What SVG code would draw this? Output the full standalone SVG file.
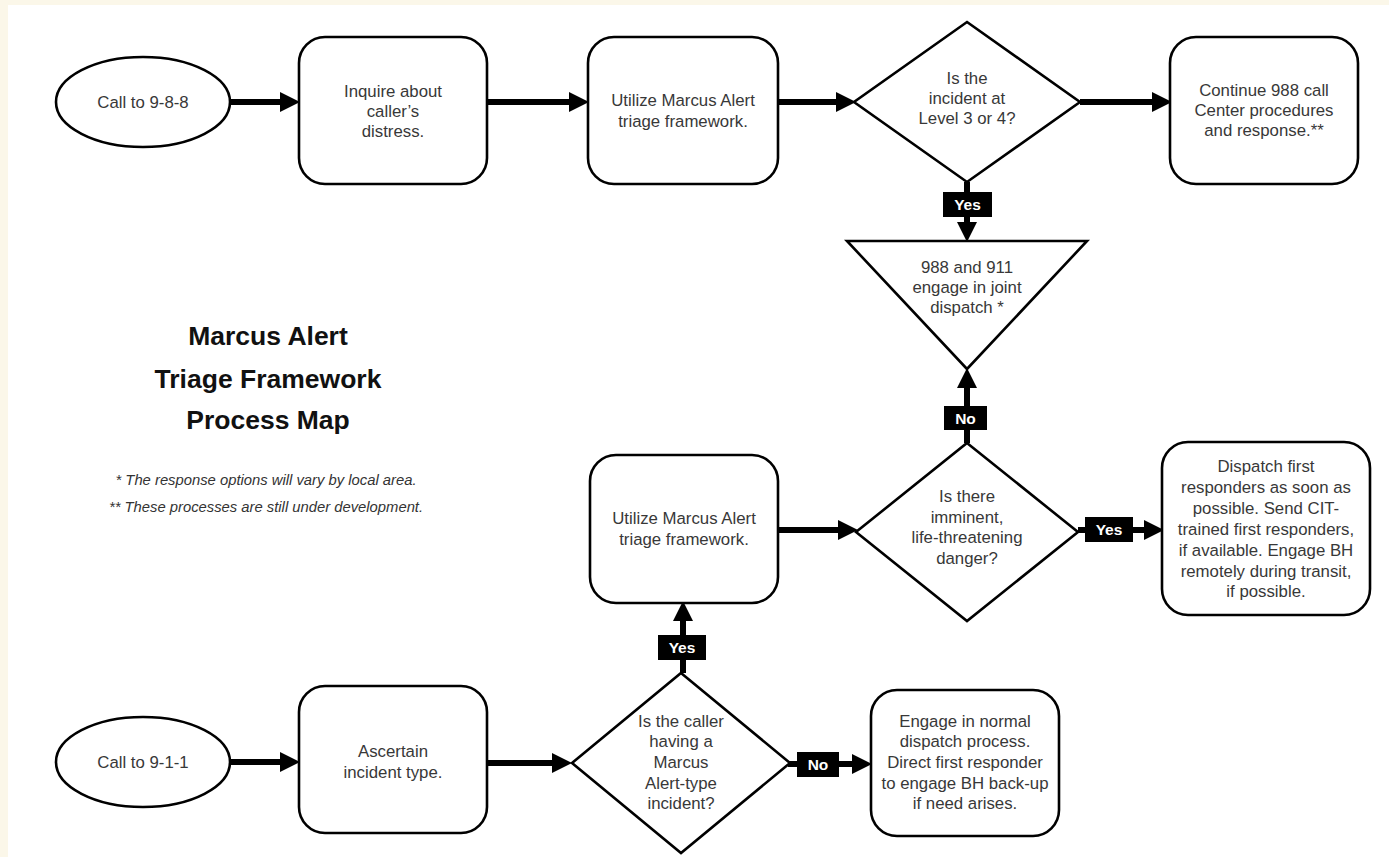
<svg xmlns="http://www.w3.org/2000/svg" width="1389" height="857" viewBox="0 0 1389 857">
<defs>
<style>
.shape{fill:#ffffff;stroke:#000000;stroke-width:2.6}
.t{font-family:"Liberation Sans",Arial,sans-serif;font-size:16.8px;fill:#383838;text-anchor:middle}
.title{font-family:"Liberation Sans",Arial,sans-serif;font-size:26.5px;font-weight:bold;fill:#111111;text-anchor:middle}
.note{font-family:"Liberation Sans",Arial,sans-serif;font-size:14.8px;font-style:italic;fill:#333333;text-anchor:middle}
.conn{fill:none;stroke:#000000;stroke-width:6;marker-end:url(#ah)}
.lab{fill:#000000}
.labt{font-family:"Liberation Sans",Arial,sans-serif;font-size:15.5px;font-weight:bold;fill:#ffffff;text-anchor:middle}
</style>
<marker id="ah" markerUnits="userSpaceOnUse" markerWidth="20" markerHeight="20" viewBox="0 0 18 18" refX="0" refY="9" orient="auto">
<path d="M0,0 L18,9 L0,18 Z" fill="#000000"/>
</marker>
</defs>
<rect x="0" y="0" width="1389" height="857" fill="#fbf7e9"/>
<rect x="8" y="5" width="1381" height="852" fill="#ffffff"/>

<g id="title">
<text class="title" x="268" y="345">Marcus Alert</text>
<text class="title" x="268" y="388">Triage Framework</text>
<text class="title" x="268" y="429">Process Map</text>
<text class="note" x="266" y="485">* The response options will vary by local area.</text>
<text class="note" x="266" y="512">** These processes are still under development.</text>
</g>

<g id="connectors">
<line class="conn" x1="230" y1="102" x2="280" y2="102"/>
<line class="conn" x1="487" y1="102" x2="569" y2="102"/>
<line class="conn" x1="778" y1="102" x2="836" y2="102"/>
<line class="conn" x1="1080" y1="102" x2="1152" y2="102"/>
<line class="conn" x1="967" y1="182" x2="967" y2="222"/>
<rect class="lab" x="943" y="192" width="49" height="25"/>
<text class="labt" x="967.5" y="210">Yes</text>
<line class="conn" x1="967" y1="443" x2="967" y2="388"/>
<rect class="lab" x="944" y="406" width="43" height="24"/>
<text class="labt" x="965.5" y="424">No</text>
<line class="conn" x1="778" y1="530" x2="838" y2="530"/>
<line class="conn" x1="1078" y1="530" x2="1144" y2="530"/>
<rect class="lab" x="1085" y="517" width="48" height="25"/>
<text class="labt" x="1109" y="535">Yes</text>
<line class="conn" x1="683" y1="673" x2="683" y2="621"/>
<rect class="lab" x="658" y="635" width="48" height="25"/>
<text class="labt" x="682" y="653">Yes</text>
<line class="conn" x1="230" y1="762" x2="280" y2="762"/>
<line class="conn" x1="487" y1="763" x2="552" y2="763"/>
<line class="conn" x1="788" y1="764" x2="852" y2="764"/>
<rect class="lab" x="797" y="752" width="42" height="25"/>
<text class="labt" x="818" y="770">No</text>
</g>

<g id="call988">
<ellipse class="shape" cx="143" cy="102" rx="87" ry="45"/>
<text class="t" x="143" y="108">Call to 9-8-8</text>
</g>

<g id="inquire">
<rect class="shape" x="299" y="37" width="188" height="147" rx="26"/>
<text class="t" x="393" y="97">Inquire about</text>
<text class="t" x="393" y="117">caller’s</text>
<text class="t" x="393" y="137">distress.</text>
</g>

<g id="utilize1">
<rect class="shape" x="588" y="37" width="190" height="147" rx="26"/>
<text class="t" x="683" y="106">Utilize Marcus Alert</text>
<text class="t" x="683" y="127">triage framework.</text>
</g>

<g id="level34">
<polygon class="shape" points="967,22 1080,102 967,182 854,102"/>
<text class="t" x="967" y="84">Is the</text>
<text class="t" x="967" y="104">incident at</text>
<text class="t" x="967" y="124">Level 3 or 4?</text>
</g>

<g id="continue988">
<rect class="shape" x="1170" y="37" width="188" height="147" rx="26"/>
<text class="t" x="1264" y="96">Continue 988 call</text>
<text class="t" x="1264" y="116">Center procedures</text>
<text class="t" x="1264" y="136">and response.**</text>
</g>

<g id="joint">
<polygon class="shape" points="847,241 1087,241 967,369"/>
<text class="t" x="967" y="273">988 and 911</text>
<text class="t" x="967" y="293">engage in joint</text>
<text class="t" x="967" y="313">dispatch *</text>
</g>

<g id="danger">
<polygon class="shape" points="967,443 1078,532 967,621 856,532"/>
<text class="t" x="967" y="502">Is there</text>
<text class="t" x="967" y="523">imminent,</text>
<text class="t" x="967" y="543">life-threatening</text>
<text class="t" x="967" y="564">danger?</text>
</g>

<g id="dispatchfirst">
<rect class="shape" x="1162" y="442" width="208" height="173" rx="26"/>
<text class="t" x="1266" y="472">Dispatch first</text>
<text class="t" x="1266" y="493">responders as soon as</text>
<text class="t" x="1266" y="514">possible. Send CIT-</text>
<text class="t" x="1266" y="535">trained first responders,</text>
<text class="t" x="1266" y="556">if available. Engage BH</text>
<text class="t" x="1266" y="577">remotely during transit,</text>
<text class="t" x="1266" y="597">if possible.</text>
</g>

<g id="utilize2">
<rect class="shape" x="590" y="455" width="188" height="148" rx="26"/>
<text class="t" x="684" y="524">Utilize Marcus Alert</text>
<text class="t" x="684" y="545">triage framework.</text>
</g>

<g id="call911">
<ellipse class="shape" cx="143" cy="762" rx="87" ry="45"/>
<text class="t" x="143" y="768">Call to 9-1-1</text>
</g>

<g id="ascertain">
<rect class="shape" x="299" y="686" width="188" height="147" rx="26"/>
<text class="t" x="393" y="757">Ascertain</text>
<text class="t" x="393" y="778">incident type.</text>
</g>

<g id="callertype">
<polygon class="shape" points="681,673 790,763 681,853 572,763"/>
<text class="t" x="681" y="727">Is the caller</text>
<text class="t" x="681" y="747">having a</text>
<text class="t" x="681" y="768">Marcus</text>
<text class="t" x="681" y="789">Alert-type</text>
<text class="t" x="681" y="809">incident?</text>
</g>

<g id="normal">
<rect class="shape" x="871" y="690" width="188" height="146" rx="26"/>
<text class="t" x="965" y="727">Engage in normal</text>
<text class="t" x="965" y="747">dispatch process.</text>
<text class="t" x="965" y="768">Direct first responder</text>
<text class="t" x="965" y="789">to engage BH back-up</text>
<text class="t" x="965" y="809">if need arises.</text>
</g>
</svg>
